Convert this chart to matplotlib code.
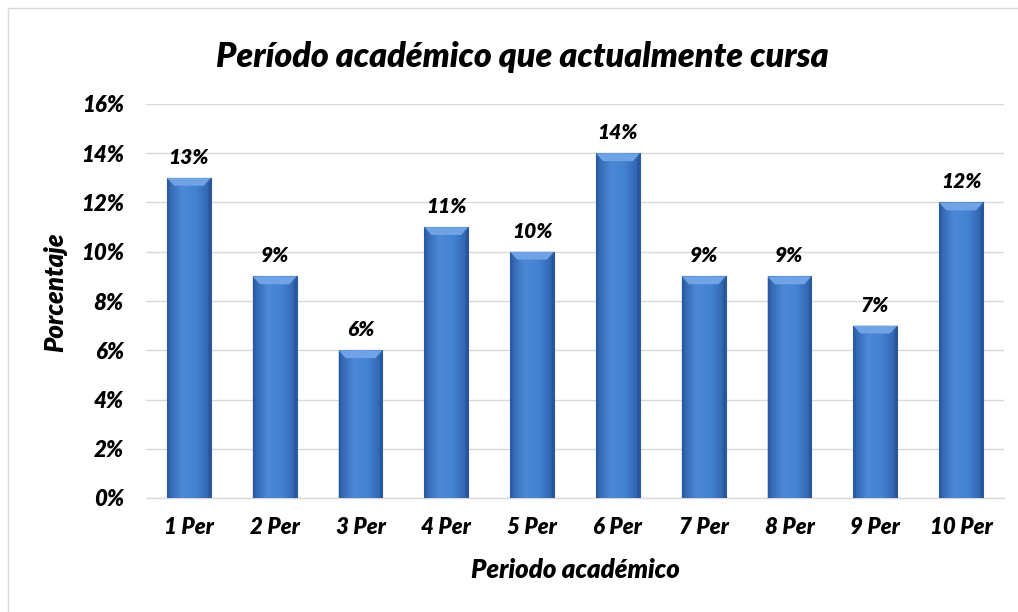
import matplotlib
matplotlib.use("Agg")
import matplotlib.pyplot as plt
import numpy as np
from matplotlib.patches import Polygon
from matplotlib.colors import LinearSegmentedColormap

categories = ["1 Per", "2 Per", "3 Per", "4 Per", "5 Per", "6 Per", "7 Per", "8 Per", "9 Per", "10 Per"]
values = [13, 9, 6, 11, 10, 14, 9, 9, 7, 12]
yticks = [0, 2, 4, 6, 8, 10, 12, 14, 16]
title = "Período académico que actualmente cursa"
xlabel = "Periodo académico"
ylabel = "Porcentaje"

plt.rcParams['font.family'] = ['Lato', 'DejaVu Sans']
FW = "heavy"

fig = plt.figure(figsize=(10.18, 6.12), dpi=100)
ax = fig.add_axes([146/1018, 1 - 498/612, (1004-146)/1018, (498-104)/612])

x = np.arange(len(categories))
width = 0.51
bars = ax.bar(x, values, width=width, color="#3B73C4", edgecolor="#2C5A9E", linewidth=0.8, zorder=3)

cmap = LinearSegmentedColormap.from_list("g", ["#2D5FA8", "#4C88D6", "#4382D2", "#2D5FA8"])
grad = np.linspace(0, 1, 256).reshape(1, -1)
ax.set_xlim(-0.5, len(categories) - 0.5)
ax.set_ylim(0, 16)
for b in bars:
    x0, w, h = b.get_x(), b.get_width(), b.get_height()
    im = ax.imshow(grad, extent=[x0, x0 + w, 0, h], aspect="auto", cmap=cmap, zorder=3.5)
    im.set_clip_path(b)
    bx = w * 0.16
    by = 0.32
    top = Polygon([[x0, h], [x0 + w, h], [x0 + w - bx, h - by], [x0 + bx, h - by]],
                  closed=True, facecolor="#6FA3E6", edgecolor="none", zorder=4)
    ax.add_patch(top)
    left = Polygon([[x0, h], [x0 + bx * 0.35, h - by], [x0 + bx * 0.35, 0], [x0, 0]],
                   closed=True, facecolor="#2A579A", edgecolor="none", alpha=0.6, zorder=4)
    ax.add_patch(left)
    right = Polygon([[x0 + w, h], [x0 + w - bx * 0.35, h - by], [x0 + w - bx * 0.35, 0], [x0 + w, 0]],
                    closed=True, facecolor="#244F8E", edgecolor="none", alpha=0.6, zorder=4)
    ax.add_patch(right)
    ax.annotate(f"{int(h)}%", (x0 + w / 2, h), xytext=(0, 8), textcoords="offset points",
                ha="center", va="bottom", fontsize=15, fontweight=FW, fontstyle="italic", zorder=5)

ax.set_yticks(yticks)
ax.set_yticklabels([f"{t}%" for t in yticks])
ax.set_xticks(x)
ax.set_xticklabels(categories)
ax.grid(axis="y", color="#D9D9D9", linewidth=1, zorder=0)
ax.set_axisbelow(True)
for s in ["top", "right", "left"]:
    ax.spines[s].set_visible(False)
ax.spines["bottom"].set_color("#D9D9D9")
ax.spines["bottom"].set_linewidth(1)
ax.tick_params(axis="both", length=0, labelsize=16)
ax.tick_params(axis="y", pad=16)
ax.tick_params(axis="x", pad=14)
for lab in ax.get_xticklabels() + ax.get_yticklabels():
    lab.set_fontweight(FW)
    lab.set_fontstyle("italic")

ax.set_xlabel(xlabel, fontsize=18.5, fontweight=FW, fontstyle="italic", labelpad=14)
ax.set_ylabel(ylabel, fontsize=18.5, fontweight=FW, fontstyle="italic", labelpad=10)
ax.yaxis.label.set_y(0.523)
fig.text(522/1018, 1 - 57/612, title, ha="center", va="center", fontsize=24.5,
         fontweight=FW, fontstyle="italic")

fig.add_artist(plt.Line2D([8/1018, 8/1018], [0, 1 - 8/612], transform=fig.transFigure, color="#D9D9D9", lw=1))
fig.add_artist(plt.Line2D([8/1018, 1], [1 - 8/612, 1 - 8/612], transform=fig.transFigure, color="#D9D9D9", lw=1))

fig.savefig("out.png", dpi=100)
